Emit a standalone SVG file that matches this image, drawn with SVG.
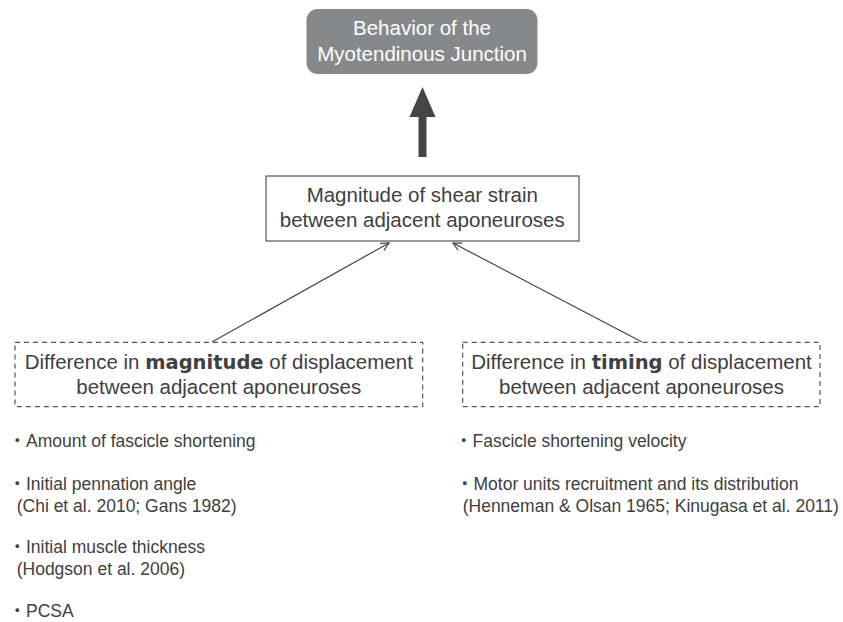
<svg xmlns="http://www.w3.org/2000/svg" width="843" height="622" viewBox="0 0 843 622">
<style>
.t{font-family:"Liberation Sans","Noto Sans CJK JP",Arial,sans-serif;font-size:20.5px;fill:#404040;text-anchor:middle}
.w{fill:#ffffff}
.b{font-family:"DejaVu Sans","Liberation Sans",sans-serif;font-weight:bold;font-size:19.5px}
.l{font-family:"Liberation Sans","Noto Sans CJK JP",Arial,sans-serif;font-size:17.5px;fill:#404040}
.dash{fill:#ffffff;stroke:#555555;stroke-width:1.2;stroke-dasharray:5 4}
.con{stroke:#444444;stroke-width:1.2;fill:none;marker-end:url(#open)}
</style>
<defs>
<marker id="open" markerWidth="12" markerHeight="12" refX="9" refY="5" orient="auto" markerUnits="userSpaceOnUse">
<path d="M1,1 L9,5 L1,9" fill="none" stroke="#444444" stroke-width="1.2"/>
</marker>
</defs>
<rect width="843" height="622" fill="#ffffff"/>
<g id="connectors">
<path d="M418.5,157 L418.5,117 L409.5,117 L422.5,87 L435.5,117 L426.5,117 L426.5,157 Z" fill="#454547"/>
<line class="con" x1="212" y1="342" x2="389" y2="243"/>
<line class="con" x1="642" y1="342" x2="453" y2="243"/>
</g>
<g id="node-mtj">
<rect x="306.5" y="9" width="231" height="65" rx="11" fill="#87888a"/>
<text class="t w" x="422" y="34.5">Behavior of the</text>
<text class="t w" x="422" y="60.5">Myotendinous Junction</text>
</g>
<g id="node-shear">
<rect x="266" y="176" width="313" height="65" fill="#ffffff" stroke="#555555" stroke-width="1.2"/>
<text class="t" x="422.3" y="202">Magnitude of shear strain</text>
<text class="t" x="422.3" y="227">between adjacent aponeuroses</text>
</g>
<g id="node-magnitude">
<rect class="dash" x="15" y="342.3" width="407.7" height="64.4"/>
<text class="t" x="218.8" y="368.5">Difference in <tspan class="b">magnitude</tspan> of displacement</text>
<text class="t" x="218.8" y="393.5">between adjacent aponeuroses</text>
</g>
<g id="node-timing">
<rect class="dash" x="462.7" y="342.3" width="357.3" height="64.4"/>
<text class="t" x="641.5" y="368.5">Difference in <tspan class="b">timing</tspan> of displacement</text>
<text class="t" x="641.5" y="393.5">between adjacent aponeuroses</text>
</g>
<g id="list-magnitude">
<text class="l" x="8.5" y="447">・Amount of fascicle shortening</text>
<text class="l" x="8.5" y="490">・Initial pennation angle</text>
<text class="l" x="16.7" y="511.5">(Chi et al. 2010; Gans 1982)</text>
<text class="l" x="8.5" y="553">・Initial muscle thickness</text>
<text class="l" x="16.7" y="574.5">(Hodgson et al. 2006)</text>
<text class="l" x="8.5" y="616.5">・PCSA</text>
</g>
<g id="list-timing">
<text class="l" x="455" y="447">・Fascicle shortening velocity</text>
<text class="l" x="456" y="490">・Motor units recruitment and its distribution</text>
<text class="l" x="462.7" y="511.5">(Henneman &amp; Olsan 1965; Kinugasa et al. 2011)</text>
</g>
</svg>
